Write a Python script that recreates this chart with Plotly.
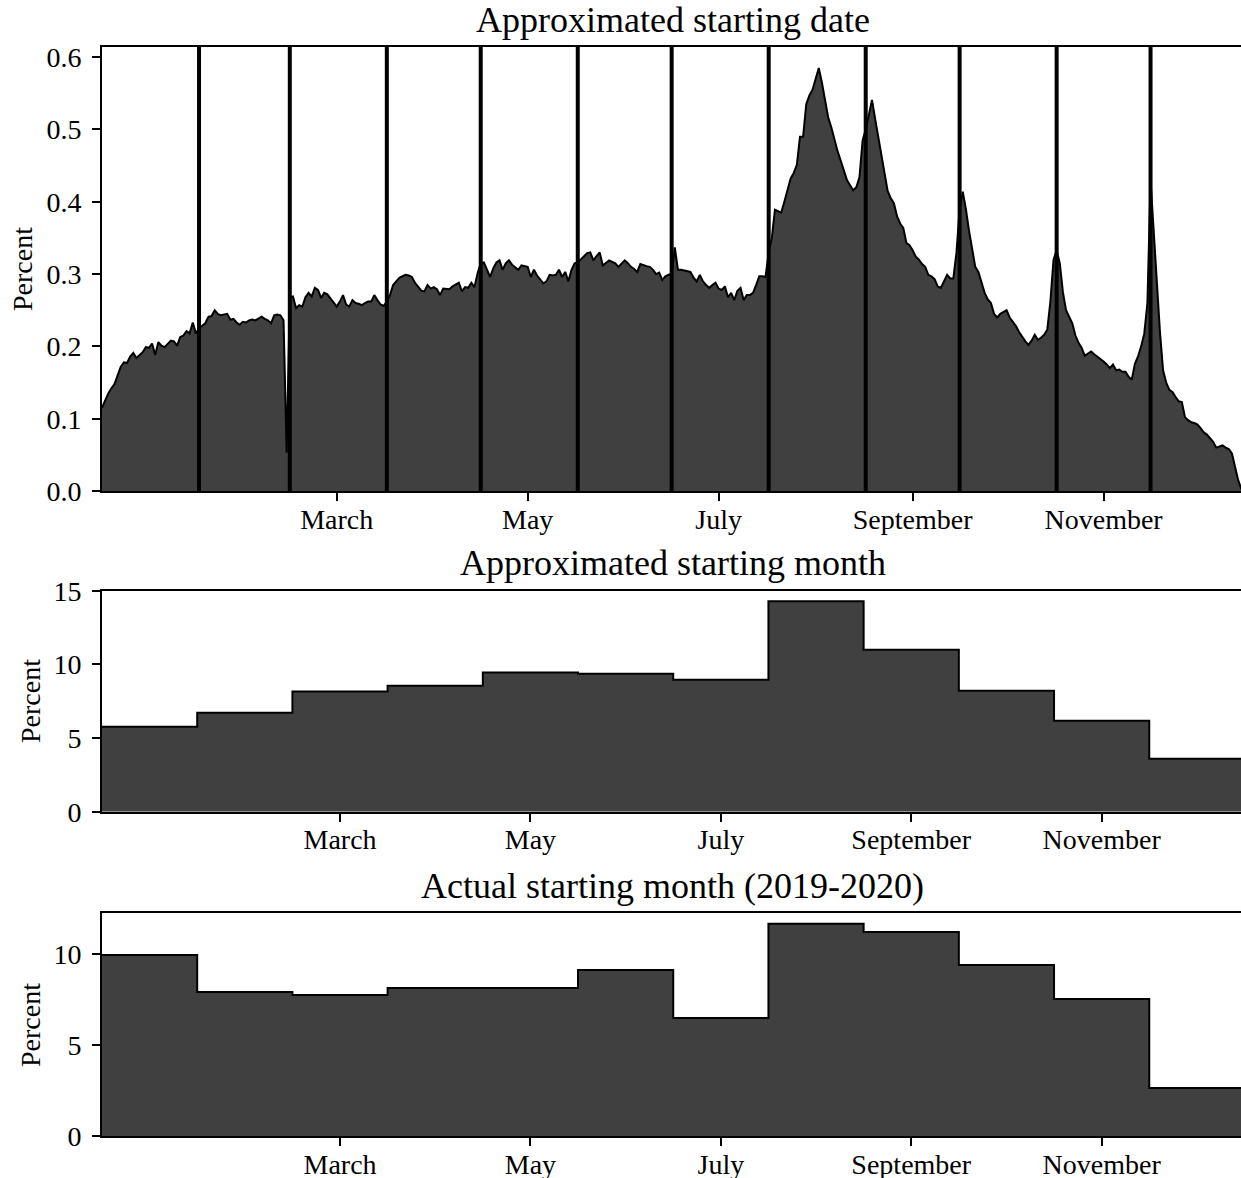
import plotly.graph_objects as go

# ---------------------------------------------------------------------------
# Daily share (percent) of approximated starting dates, leap year 2020
# ---------------------------------------------------------------------------
jan = [0.115, 0.125, 0.135, 0.142, 0.148, 0.160, 0.172, 0.178, 0.177, 0.186,
       0.191, 0.184, 0.188, 0.192, 0.199, 0.198, 0.204, 0.188, 0.206, 0.201,
       0.199, 0.204, 0.208, 0.207, 0.201, 0.213, 0.215, 0.221, 0.218, 0.233,
       0.218]
feb = [0.225, 0.228, 0.232, 0.241, 0.242, 0.250, 0.245, 0.243, 0.244, 0.245,
       0.237, 0.238, 0.233, 0.230, 0.234, 0.233, 0.236, 0.237, 0.236, 0.239,
       0.241, 0.238, 0.236, 0.232, 0.243, 0.244, 0.243, 0.236, 0.053]
mar = [0.268, 0.269, 0.253, 0.257, 0.255, 0.268, 0.274, 0.269, 0.281, 0.278,
       0.267, 0.274, 0.272, 0.266, 0.260, 0.255, 0.262, 0.271, 0.258, 0.255,
       0.264, 0.260, 0.259, 0.257, 0.260, 0.262, 0.262, 0.271, 0.264, 0.258,
       0.256]
apr = [0.262, 0.271, 0.285, 0.290, 0.295, 0.297, 0.299, 0.298, 0.296, 0.288,
       0.283, 0.277, 0.276, 0.285, 0.280, 0.282, 0.279, 0.271, 0.280, 0.280,
       0.279, 0.283, 0.285, 0.288, 0.276, 0.282, 0.281, 0.288, 0.282, 0.301]
may = [0.315, 0.316, 0.306, 0.296, 0.308, 0.316, 0.319, 0.306, 0.315, 0.319,
       0.313, 0.310, 0.306, 0.312, 0.311, 0.310, 0.296, 0.306, 0.298, 0.292,
       0.287, 0.290, 0.299, 0.298, 0.299, 0.306, 0.296, 0.303, 0.290, 0.306,
       0.315]
jun = [0.316, 0.320, 0.325, 0.329, 0.330, 0.319, 0.325, 0.330, 0.312, 0.316,
       0.319, 0.317, 0.315, 0.310, 0.315, 0.319, 0.315, 0.310, 0.307, 0.303,
       0.314, 0.312, 0.311, 0.310, 0.306, 0.300, 0.302, 0.292, 0.297, 0.299]
jul = [0.300, 0.337, 0.306, 0.306, 0.305, 0.305, 0.303, 0.295, 0.290, 0.299,
       0.290, 0.285, 0.281, 0.285, 0.288, 0.280, 0.278, 0.283, 0.268, 0.274,
       0.264, 0.277, 0.281, 0.264, 0.271, 0.271, 0.274, 0.285, 0.297, 0.297,
       0.296]
aug = [0.330, 0.350, 0.389, 0.387, 0.385, 0.400, 0.415, 0.432, 0.440, 0.451,
       0.490, 0.490, 0.535, 0.547, 0.555, 0.570, 0.585, 0.565, 0.540, 0.517,
       0.503, 0.485, 0.470, 0.457, 0.444, 0.430, 0.423, 0.416, 0.420, 0.434,
       0.485]
sep = [0.500, 0.520, 0.541, 0.515, 0.490, 0.462, 0.435, 0.415, 0.405, 0.398,
       0.380, 0.370, 0.364, 0.343, 0.340, 0.333, 0.324, 0.320, 0.314, 0.310,
       0.299, 0.297, 0.293, 0.283, 0.281, 0.290, 0.299, 0.294, 0.294, 0.330]
oct_ = [0.390, 0.414, 0.390, 0.360, 0.335, 0.310, 0.303, 0.290, 0.274, 0.265,
        0.260, 0.245, 0.240, 0.245, 0.248, 0.250, 0.240, 0.234, 0.228, 0.220,
        0.213, 0.207, 0.202, 0.208, 0.216, 0.209, 0.212, 0.216, 0.223, 0.262,
        0.320]
nov = [0.333, 0.315, 0.275, 0.250, 0.242, 0.232, 0.215, 0.205, 0.198, 0.187,
       0.190, 0.193, 0.189, 0.186, 0.183, 0.179, 0.175, 0.170, 0.175, 0.167,
       0.168, 0.165, 0.165, 0.158, 0.154, 0.176, 0.186, 0.200, 0.218, 0.260]
dec = [0.430, 0.360, 0.300, 0.220, 0.167, 0.150, 0.140, 0.137, 0.130, 0.124,
       0.123, 0.102, 0.098, 0.095, 0.094, 0.092, 0.087, 0.081, 0.078, 0.073,
       0.068, 0.060, 0.062, 0.063, 0.060, 0.058, 0.052, 0.035, 0.015, 0.003,
       0.000]

# first day of each month (day-of-year index, Jan 1 = 0), Feb..Dec
month_starts = [31, 60, 91, 121, 152, 182, 213, 244, 274, 305, 335]

# date-axis ticks: the 16th of every second month
date_tick_days = [75, 136, 197, 259, 320]
tick_labels = ["March", "May", "July", "September", "November"]

# monthly shares (percent)
approx_month = [5.77, 6.72, 8.15, 8.55, 9.44, 9.37, 8.96, 14.29, 11.0, 8.21, 6.18, 3.6]
actual_month = [9.96, 7.93, 7.76, 8.15, 8.15, 9.14, 6.49, 11.68, 11.23, 9.41, 7.54, 2.64]
month_tick_pos = [2.5, 4.5, 6.5, 8.5, 10.5]

# ---------------------------------------------------------------------------
W, H = 1241, 1178
ML = 102
FONT = "Liberation Serif"
FILL = "#404040"
TICK_SIZE = 28
TITLE_SIZE = 36

daily = jan + feb + mar + apr + may + jun + jul + aug + sep + oct_ + nov + dec
days = list(range(len(daily)))
px_per_day = 3.13
day_end = (W - ML) / px_per_day
month_end = day_end / 365 * 12


def ydom(top_px, bottom_px):
    return [1 - bottom_px / H, 1 - top_px / H]


fig = go.Figure()

fig.add_trace(go.Scatter(
    x=days, y=daily, mode="lines", line=dict(color="black", width=2),
    fill="tozeroy", fillcolor=FILL, xaxis="x", yaxis="y", showlegend=False))

for d in month_starts:
    fig.add_shape(type="line", xref="x", yref="y domain", x0=d, x1=d, y0=0, y1=1,
                  line=dict(color="black", width=4), layer="above")

months = list(range(13))
fig.add_trace(go.Scatter(
    x=months, y=approx_month + approx_month[-1:], mode="lines", line_shape="hv",
    line=dict(color="black", width=2), fill="tozeroy", fillcolor=FILL,
    xaxis="x2", yaxis="y2", showlegend=False))
fig.add_trace(go.Scatter(
    x=months, y=actual_month + actual_month[-1:], mode="lines", line_shape="hv",
    line=dict(color="black", width=2), fill="tozeroy", fillcolor=FILL,
    xaxis="x3", yaxis="y3", showlegend=False))

axis_common = dict(showgrid=False, zeroline=False, showline=True, linecolor="black",
                   linewidth=2, ticks="outside", ticklen=8, tickwidth=1.6,
                   tickcolor="black", automargin=False,
                   tickfont=dict(family=FONT, size=TICK_SIZE, color="black"))
xaxis_common = dict(axis_common, mirror=True, ticklabelstandoff=-6)
yaxis_common = dict(axis_common, ticklabelstandoff=5)

fig.update_layout(
    width=W, height=H,
    margin=dict(l=ML, r=0, t=0, b=0, autoexpand=False),
    paper_bgcolor="white", plot_bgcolor="white",
    font=dict(family=FONT, color="black"),
    xaxis=dict(xaxis_common, domain=[0, 1], anchor="y", range=[0, day_end],
               tickvals=date_tick_days, ticktext=tick_labels),
    yaxis=dict(yaxis_common, domain=ydom(46.7, 491), anchor="x", range=[0, 0.6145],
               tickvals=[0, 0.1, 0.2, 0.3, 0.4, 0.5, 0.6], tickformat=".1f"),
    xaxis2=dict(xaxis_common, domain=[0, 1], anchor="y2", range=[0, month_end],
                tickvals=month_tick_pos, ticktext=tick_labels),
    yaxis2=dict(yaxis_common, domain=ydom(590.7, 811.7), anchor="x2", range=[0, 15],
                tickvals=[0, 5, 10, 15]),
    xaxis3=dict(xaxis_common, domain=[0, 1], anchor="y3", range=[0, month_end],
                tickvals=month_tick_pos, ticktext=tick_labels),
    yaxis3=dict(yaxis_common, domain=ydom(913.3, 1136), anchor="x3", range=[0, 12.26],
                tickvals=[0, 5, 10]),
)

titles = [("Approximated starting date", 20),
          ("Approximated starting month", 563),
          ("Actual starting month (2019-2020)", 886)]
for text, ypx in titles:
    fig.add_annotation(text=text, xref="paper", yref="paper",
                       x=(672.5 - ML) / (W - ML), y=1 - ypx / H,
                       xanchor="center", yanchor="middle", showarrow=False,
                       font=dict(family=FONT, size=TITLE_SIZE, color="black"))

for xpx, ypx in [(22, 269), (30, 701), (30, 1025)]:
    fig.add_annotation(text="Percent", xref="paper", yref="paper",
                       x=(xpx - ML) / (W - ML), y=1 - ypx / H, textangle=-90,
                       xanchor="center", yanchor="middle", showarrow=False,
                       font=dict(family=FONT, size=TICK_SIZE, color="black"))

fig.write_html("out.html")
